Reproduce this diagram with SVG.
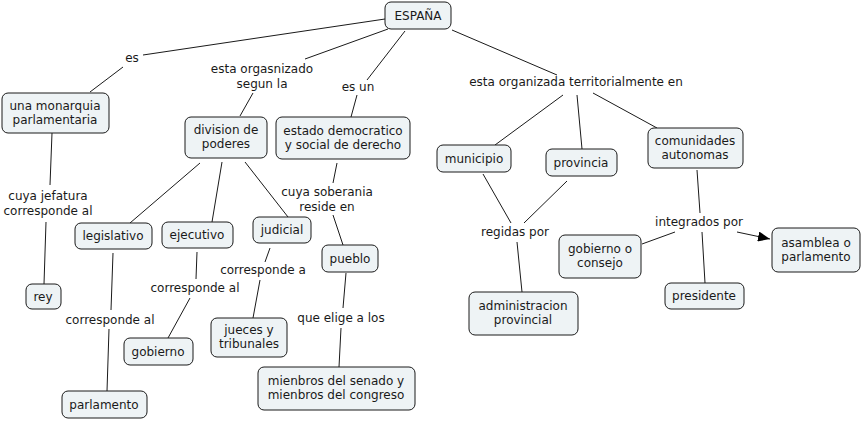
<svg xmlns="http://www.w3.org/2000/svg" width="863" height="421" viewBox="0 0 863 421">
<defs>
<style>
.n rect{fill:#eef3f5;stroke:#1a1a1a;stroke-width:1}
text{font-family:"DejaVu Sans",Verdana,sans-serif;font-size:12px;fill:#1a1a1a;text-anchor:middle}
.c line{stroke:#1a1a1a;stroke-width:1}
</style>
<marker id="ah" viewBox="0 0 12 10" refX="12" refY="5" markerWidth="12" markerHeight="10" markerUnits="userSpaceOnUse" orient="auto">
<path d="M0,0 L12,5 L0,10 z" fill="#000"/>
</marker>
</defs>
<rect width="863" height="421" fill="#fff"/>
<g class="c" id="connectors">
<line x1="385" y1="19" x2="143" y2="55"/>
<line x1="123" y1="67" x2="90" y2="92"/>
<line x1="388" y1="29" x2="305" y2="59"/>
<line x1="253" y1="93" x2="240" y2="116"/>
<line x1="405" y1="31" x2="367" y2="80"/>
<line x1="357" y1="95" x2="351" y2="117"/>
<line x1="452" y1="30" x2="557" y2="75"/>
<line x1="563" y1="95" x2="495" y2="145"/>
<line x1="577" y1="95" x2="582" y2="149"/>
<line x1="593" y1="93" x2="657" y2="128"/>
<line x1="52" y1="133" x2="50" y2="185"/>
<line x1="46" y1="222" x2="44" y2="284"/>
<line x1="200" y1="163" x2="130" y2="223"/>
<line x1="222" y1="162" x2="212" y2="222"/>
<line x1="245" y1="162" x2="288" y2="217"/>
<line x1="113" y1="253" x2="111" y2="310"/>
<line x1="109" y1="329" x2="107" y2="391"/>
<line x1="197" y1="252" x2="196" y2="279"/>
<line x1="190" y1="298" x2="168" y2="338"/>
<line x1="270" y1="248" x2="265" y2="262"/>
<line x1="260" y1="280" x2="253" y2="318"/>
<line x1="337" y1="163" x2="333" y2="183"/>
<line x1="333" y1="215" x2="343" y2="245"/>
<line x1="346" y1="273" x2="343" y2="308"/>
<line x1="341" y1="328" x2="339" y2="367"/>
<line x1="483" y1="174" x2="511" y2="223"/>
<line x1="567" y1="181" x2="524" y2="223"/>
<line x1="517" y1="242" x2="522" y2="292"/>
<line x1="697" y1="170" x2="700" y2="213"/>
<line x1="675" y1="232" x2="642" y2="244"/>
<line x1="702" y1="232" x2="705" y2="283"/>
<line x1="737" y1="232" x2="770" y2="239" marker-end="url(#ah)"/>
</g>
<g id="linking-phrases">
<text x="132" y="62">es</text>
<text x="262" y="73">esta orgasnizado</text>
<text x="262" y="88">segun la</text>
<text x="358" y="91">es un</text>
<text x="576" y="86">esta organizada territorialmente en</text>
<text x="48" y="200">cuya jefatura</text>
<text x="48" y="215">corresponde al</text>
<text x="327" y="196">cuya soberania</text>
<text x="327" y="211">reside en</text>
<text x="263" y="274">corresponde a</text>
<text x="195" y="292">corresponde al</text>
<text x="110" y="324">corresponde al</text>
<text x="341" y="322">que elige a los</text>
<text x="515" y="236">regidas por</text>
<text x="699" y="226">integrados por</text>
</g>
<g class="n" id="espana"><rect x="385" y="2" width="66" height="27" rx="6"/><text x="418" y="20">ESPAÑA</text></g>
<g class="n" id="monarquia"><rect x="2" y="93" width="107" height="40" rx="6"/><text x="55" y="110">una monarquia</text><text x="55" y="124">parlamentaria</text></g>
<g class="n" id="division"><rect x="185" y="117" width="82" height="41" rx="6"/><text x="226" y="134">division de</text><text x="226" y="148">poderes</text></g>
<g class="n" id="estado"><rect x="276" y="117" width="134" height="42" rx="6"/><text x="343" y="135">estado democratico</text><text x="343" y="149">y social de derecho</text></g>
<g class="n" id="municipio"><rect x="437" y="145" width="74" height="27" rx="6"/><text x="474" y="163">municipio</text></g>
<g class="n" id="provincia"><rect x="546" y="149" width="71" height="27" rx="6"/><text x="581" y="167">provincia</text></g>
<g class="n" id="comunidades"><rect x="648" y="128" width="95" height="40" rx="6"/><text x="695" y="145">comunidades</text><text x="695" y="159">autonomas</text></g>
<g class="n" id="legislativo"><rect x="75" y="223" width="77" height="26" rx="6"/><text x="113" y="240">legislativo</text></g>
<g class="n" id="ejecutivo"><rect x="162" y="222" width="71" height="26" rx="6"/><text x="197" y="239">ejecutivo</text></g>
<g class="n" id="judicial"><rect x="253" y="217" width="58" height="26" rx="6"/><text x="282" y="234">judicial</text></g>
<g class="n" id="pueblo"><rect x="322" y="245" width="56" height="27" rx="6"/><text x="350" y="263">pueblo</text></g>
<g class="n" id="rey"><rect x="26" y="284" width="35" height="25" rx="6"/><text x="43" y="301">rey</text></g>
<g class="n" id="gobierno-consejo"><rect x="559" y="235" width="82" height="43" rx="6"/><text x="600" y="253">gobierno o</text><text x="600" y="267">consejo</text></g>
<g class="n" id="asamblea"><rect x="772" y="228" width="88" height="44" rx="6"/><text x="816" y="247">asamblea o</text><text x="816" y="261">parlamento</text></g>
<g class="n" id="presidente"><rect x="665" y="283" width="79" height="26" rx="6"/><text x="704" y="300">presidente</text></g>
<g class="n" id="administracion"><rect x="469" y="292" width="109" height="43" rx="6"/><text x="523" y="310">administracion</text><text x="523" y="324">provincial</text></g>
<g class="n" id="jueces"><rect x="211" y="318" width="76" height="39" rx="6"/><text x="249" y="334">jueces y</text><text x="249" y="348">tribunales</text></g>
<g class="n" id="gobierno"><rect x="124" y="338" width="69" height="27" rx="6"/><text x="158" y="356">gobierno</text></g>
<g class="n" id="mienbros"><rect x="258" y="367" width="157" height="43" rx="6"/><text x="336" y="385">mienbros del senado y</text><text x="336" y="399">mienbros del congreso</text></g>
<g class="n" id="parlamento"><rect x="62" y="391" width="85" height="27" rx="6"/><text x="104" y="409">parlamento</text></g>
</svg>
